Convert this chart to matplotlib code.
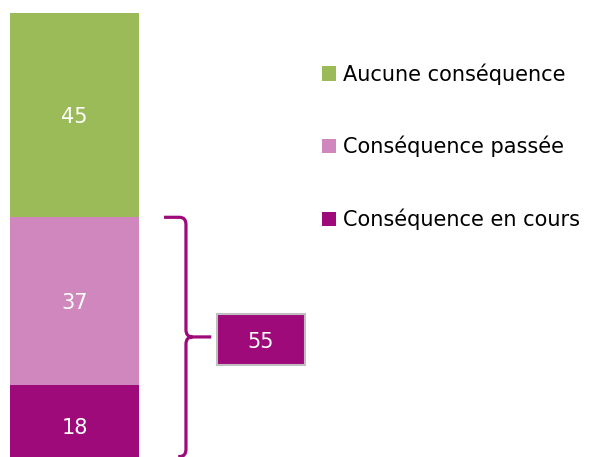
import matplotlib
matplotlib.use("Agg")
import matplotlib.pyplot as plt
from matplotlib.patches import Patch, Rectangle
from matplotlib.path import Path
from matplotlib.patches import PathPatch

labels = ["Conséquence en cours", "Conséquence passée", "Aucune conséquence"]
values = [18, 37, 45]
colors = ["#9E0A7A", "#CF87BE", "#9BBB59"]
total_label = "55"
total_value = values[0] + values[1]

fig = plt.figure(figsize=(6.11, 4.57), dpi=100)
# axes runs a bit below the figure: the reference crops the bottom of the bar
ax = fig.add_axes([0, -10 / 457, 1, 454 / 457])
ax.set_xlim(-74.5 / 129, (611 - 74.5) / 129)
ax.set_ylim(0, sum(values))
ax.axis("off")

bottom = 0
for v, c in zip(values, colors):
    ax.bar(0, v, width=1.0, bottom=bottom, color=c, linewidth=0)
    ax.text(0, bottom + v / 2 - 0.45, str(v), ha="center", va="center",
            color="white", fontsize=15)
    bottom += v

# brace around the two "conséquence" segments
x0, xv, xt = 0.694, 0.864, 1.06
dx, dy = 0.05, 1.6
top, low = total_value, 2.3
mid = (top + low) / 2
verts = [(x0, top), (xv - dx, top), (xv, top),
         (xv, top - dy), (xv, mid + dy), (xv, mid), (xv + dx, mid),
         (xt, mid),
         (xv + dx, mid), (xv, mid), (xv, mid - dy), (xv, low + dy), (xv, low),
         (xv - dx, low), (xv - 0.06, low)]
codes = [Path.MOVETO, Path.LINETO, Path.CURVE3, Path.CURVE3, Path.LINETO,
         Path.CURVE3, Path.CURVE3, Path.LINETO,
         Path.MOVETO, Path.CURVE3, Path.CURVE3, Path.LINETO, Path.CURVE3,
         Path.CURVE3, Path.LINETO]
ax.add_patch(PathPatch(Path(verts, codes), fill=False, edgecolor=colors[0],
                       linewidth=2.3, capstyle="butt", clip_on=False))

# total box
bx0, bx1 = (217 - 74.5) / 129, (305 - 74.5) / 129
bh = 51 / 454 * sum(values)
by = mid - bh / 2 - 0.5
ax.add_patch(Rectangle((bx0, by), bx1 - bx0, bh,
                       facecolor=colors[0], edgecolor="#BFBFBF", linewidth=1.5))
ax.text((bx0 + bx1) / 2, by + bh / 2 - 0.6, total_label, ha="center", va="center",
        color="white", fontsize=15)

handles = [Patch(facecolor=c, label=l) for c, l in zip(colors, labels)][::-1]
fig.legend(handles=handles, loc="upper left", bbox_to_anchor=(314 / 611, 1 - 55 / 457),
           frameon=False, fontsize=15, handlelength=0.67, handleheight=0.67,
           handletextpad=0.34, labelspacing=2.45, borderaxespad=0)

fig.savefig("out.png", dpi=100)
